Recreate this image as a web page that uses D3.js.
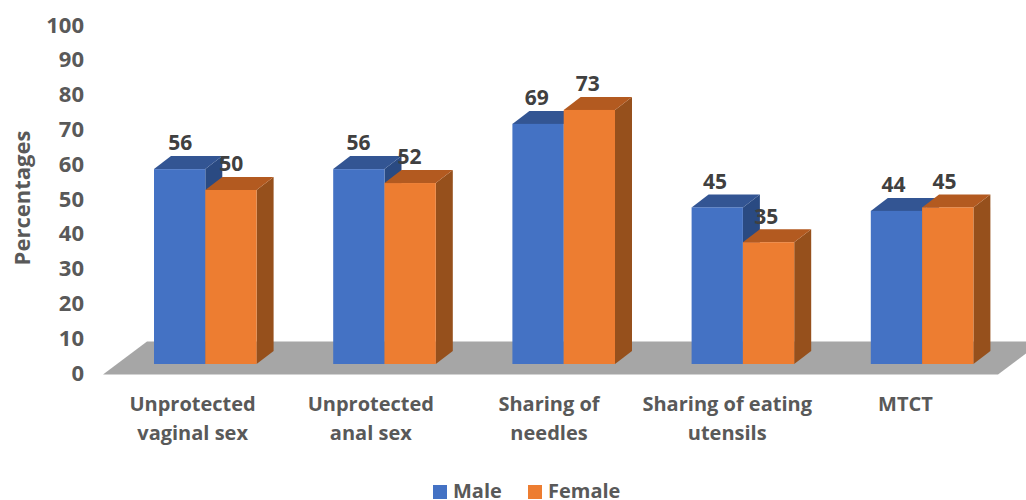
<!DOCTYPE html>
<html><head><meta charset="utf-8">
<script src="https://cdn.jsdelivr.net/npm/d3@7"></script>
<style>html,body{margin:0;padding:0;background:#fff}svg{display:block}text{font-family:"Open Sans",sans-serif;font-weight:700}</style>
</head><body><svg id="c" width="1026" height="500"></svg>
<script>
const categories = ["Unprotected vaginal sex","Unprotected anal sex","Sharing of needles","Sharing of eating utensils","MTCT"];
const categoryLines = [["Unprotected","vaginal sex"],["Unprotected","anal sex"],["Sharing of","needles"],["Sharing of eating","utensils"],["MTCT"]];
const seriesNames = ["Male","Female"];
const male = [56,56,69,45,44];
const female = [50,52,73,35,45];
const yTicks = [0,10,20,30,40,50,60,70,80,90,100];

const frontColor = ["#4472C4","#ED7D31"], topColor = ["#335593","#B35A20"], sideColor = ["#2A4A82","#96501C"];
const dx = 17, dy = 13;
const svg = d3.select("#c");
const x = d3.scaleBand().domain(categories).range([115.7,1011.7]);
const xs = d3.scaleBand().domain(seriesNames).range([-51.3,51.3]);
const xLabel = d3.scaleBand().domain(categories).range([103.5,994.5]);
const labelX = d3.scaleLinear().domain([180,896.5]).range([180.5,893.5]);
const y = d3.scaleLinear().domain([0,100]).range([364,16]);

// floor
svg.append("polygon").attr("fill","#A6A6A6")
  .attr("points",[[103,374.5],[998,374.5],[1042,341.5],[147,341.5]].join(" "));

// bars
const rows = categories.flatMap((c,i)=>[
  {c,s:0,v:male[i]},{c,s:1,v:female[i]}]);
const g = svg.append("g").selectAll("g").data(rows).join("g");
const left = d=>x(d.c)+x.bandwidth()/2+xs(seriesNames[d.s]);
g.append("polygon").attr("fill",d=>sideColor[d.s]).attr("points",d=>{
  const r=left(d)+xs.bandwidth(),t=y(d.v),b=y(0);
  return [[r,t],[r+dx,t-dy],[r+dx,b-dy],[r,b]].join(" ");});
g.append("polygon").attr("fill",d=>topColor[d.s]).attr("points",d=>{
  const l=left(d),r=l+xs.bandwidth(),t=y(d.v);
  return [[l,t],[r,t],[r+dx,t-dy],[l+dx,t-dy]].join(" ");});
g.append("rect").attr("fill",d=>frontColor[d.s]).attr("x",left).attr("y",d=>y(d.v))
  .attr("width",xs.bandwidth()).attr("height",d=>y(0)-y(d.v));

// data labels
svg.append("g").selectAll("text").data(rows).join("text")
  .attr("x",d=>labelX(left(d)+xs.bandwidth()/2)).attr("y",d=>y(d.v)-26).attr("dy","0.35em")
  .attr("text-anchor","middle").attr("font-size",21).attr("fill","#404040").text(d=>d.v);

// y axis
const ya = svg.append("g").attr("transform","translate(84,9)")
  .call(d3.axisLeft(y).tickValues(yTicks).tickSize(0).tickPadding(0));
ya.select(".domain").remove();
ya.selectAll("text").attr("font-size",22).attr("fill","#595959").style("font-family",'"Open Sans",sans-serif').style("font-weight",700);

// x axis
const xa = svg.append("g").attr("transform","translate(0,390)")
  .call(d3.axisBottom(xLabel).tickSize(0).tickPadding(0));
xa.select(".domain").remove();
xa.selectAll("text").each(function(d,i){
  const t=d3.select(this).text(null).attr("y",0).attr("dy",null)
    .attr("font-size",20).attr("fill","#595959").style("font-family",'"Open Sans",sans-serif').style("font-weight",700);
  categoryLines[i].forEach((l,j)=>t.append("tspan").attr("x",0).attr("y",21+j*29).text(l));
});

// y title
svg.append("text").attr("transform","translate(22,198) rotate(-90)").attr("text-anchor","middle")
  .attr("dy","0.35em").attr("font-size",22).attr("fill","#595959").text("Percentages");

// legend
const legendX = d3.scaleOrdinal().domain(seriesNames).range([433,528]);
const lg = svg.append("g").selectAll("g").data(seriesNames).join("g");
lg.append("rect").attr("x",d=>legendX(d)).attr("y",485).attr("width",14).attr("height",14)
  .attr("fill",(d,i)=>frontColor[i]);
lg.append("text").attr("x",d=>legendX(d)+20).attr("y",491).attr("dy","0.35em")
  .attr("font-size",20).attr("fill","#595959").text(d=>d);
</script></body></html>
